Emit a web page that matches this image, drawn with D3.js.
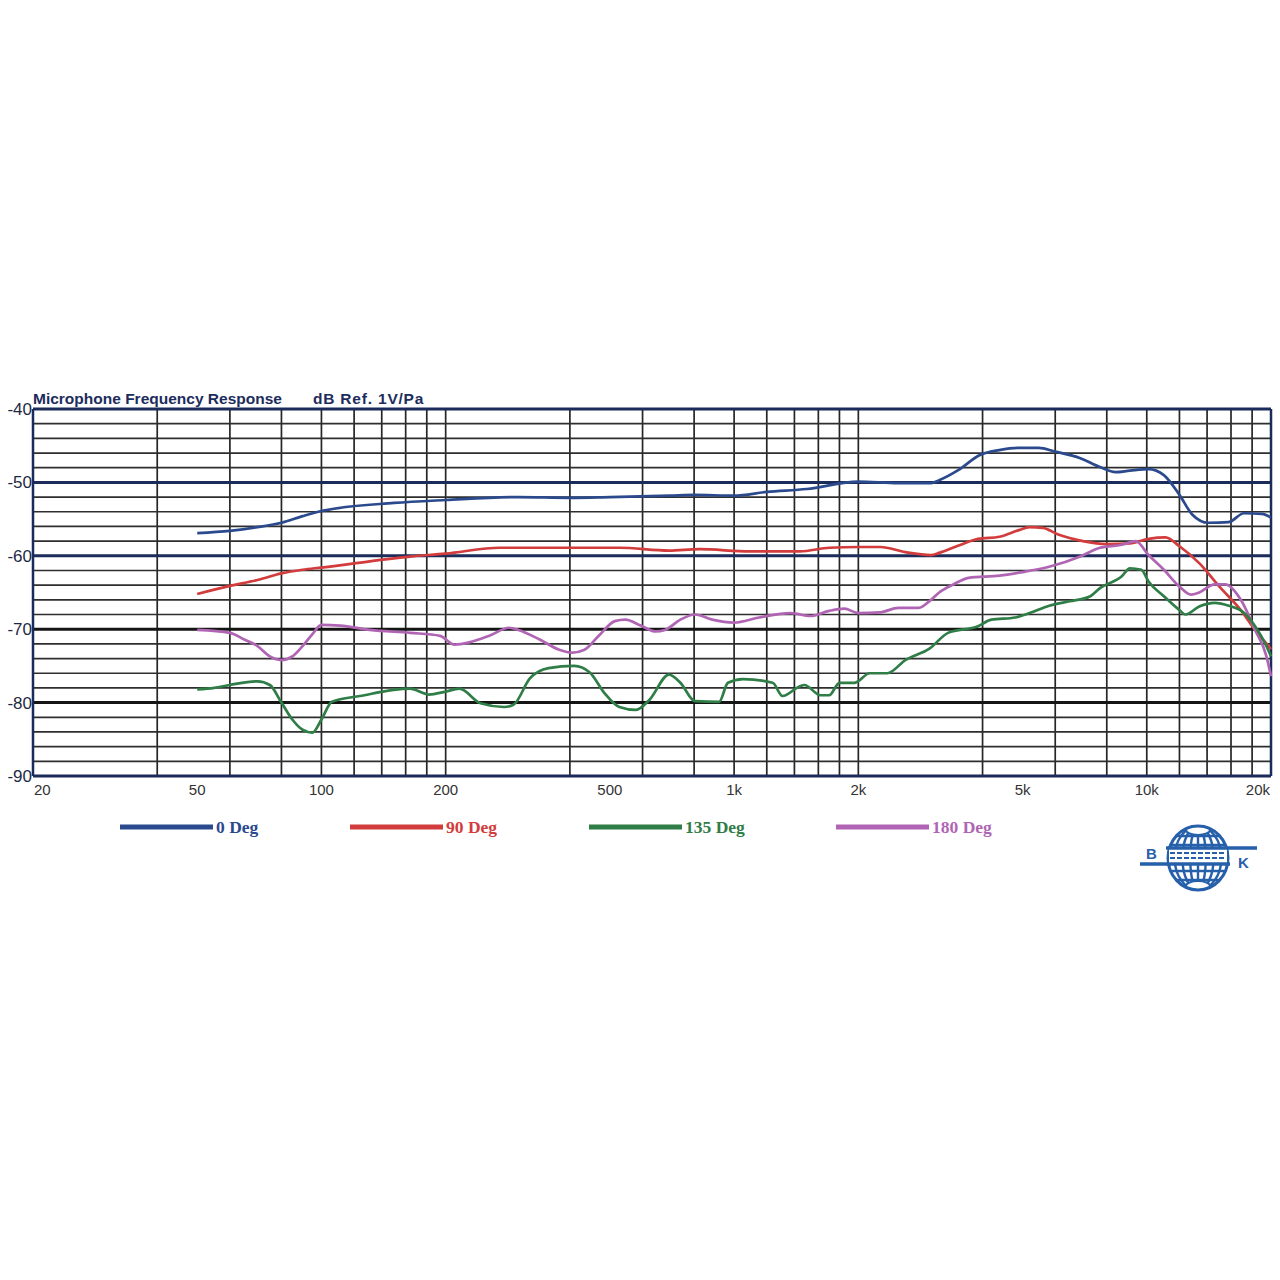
<!DOCTYPE html>
<html>
<head>
<meta charset="utf-8">
<script src="https://cdn.jsdelivr.net/npm/d3@7/dist/d3.min.js"></script>
<style>
  html, body { margin: 0; padding: 0; background: #ffffff; }
  svg { display: block; }
</style>
</head>
<body>
<script>
// ---------- DATA ----------
const title = "Microphone Frequency Response";
const subtitle = "dB Ref. 1V/Pa";
const yTicks = [-40, -50, -60, -70, -80, -90];
const xTickValues = [20, 50, 100, 200, 500, 1000, 2000, 5000, 10000, 20000];
const xTickLabels = ["20", "50", "100", "200", "500", "1k", "2k", "5k", "10k", "20k"];
const seriesNames = ["0 Deg", "90 Deg", "135 Deg", "180 Deg"];
const seriesColors = ["#2b4a8e", "#d23c3c", "#2f7d47", "#b065b4"];

const freq0 = [50, 60, 70, 80, 90, 100, 150, 200, 300, 400, 500, 700, 800, 1000, 1200, 1500, 2000, 2500, 3000, 3140, 3500, 3930, 4390, 4900, 5470, 6000, 6900, 7700, 8400, 9100, 10100, 11000, 12000, 12900, 14100, 15800, 17200, 19000, 20000];
const db0   = [-56.9, -56.6, -56.1, -55.5, -54.6, -53.9, -52.8, -52.4, -52.0, -52.1, -52.0, -51.8, -51.7, -51.8, -51.3, -50.9, -49.9, -50.1, -50.1, -49.7, -48.3, -46.3, -45.6, -45.3, -45.3, -45.8, -46.7, -47.9, -48.6, -48.4, -48.2, -49.0, -51.7, -54.4, -55.5, -55.4, -54.2, -54.3, -54.8];

const freq90 = [50, 60, 70, 80, 90, 100, 164, 200, 271, 470, 527, 695, 823, 1092, 1443, 1702, 2000, 2260, 2600, 3000, 3140, 3500, 3900, 4400, 4900, 5200, 5600, 6100, 7000, 8000, 9100, 10100, 11100, 12000, 13400, 15000, 16900, 18300, 20000];
const db90   = [-65.2, -64.1, -63.3, -62.4, -61.9, -61.6, -60.1, -59.7, -58.9, -58.9, -58.9, -59.3, -59.1, -59.4, -59.4, -58.9, -58.8, -58.8, -59.5, -59.9, -59.6, -58.6, -57.7, -57.4, -56.5, -56.1, -56.2, -57.1, -58.0, -58.4, -58.3, -57.7, -57.5, -58.7, -61.0, -64.2, -67.4, -70.1, -72.7];

const freq135 = [50, 55, 60, 70, 75, 80, 85, 90, 95, 100, 106, 124, 164, 182, 200, 216, 243, 277, 292, 320, 355, 410, 447, 485, 527, 578, 624, 695, 741, 804, 920, 966, 1050, 1240, 1310, 1440, 1480, 1620, 1700, 1800, 1960, 2130, 2350, 2600, 2980, 3300, 3900, 4200, 4800, 5200, 5800, 6500, 7300, 7700, 8700, 9100, 9700, 10100, 11000, 12000, 12400, 13400, 14600, 15800, 17300, 18300, 19500, 20000];
const db135   = [-78.2, -78.0, -77.6, -77.1, -77.6, -80.0, -82.3, -83.7, -84.1, -82.3, -79.9, -79.1, -78.1, -78.9, -78.5, -78.1, -80.1, -80.6, -80.3, -76.7, -75.3, -75.0, -75.9, -78.7, -80.6, -81.0, -79.6, -76.2, -77.3, -79.8, -79.9, -77.3, -76.8, -77.3, -79.1, -77.8, -77.6, -79.0, -79.0, -77.3, -77.3, -76.0, -76.0, -74.2, -72.6, -70.5, -69.6, -68.7, -68.4, -67.8, -66.8, -66.2, -65.5, -64.4, -62.8, -61.7, -61.9, -63.5, -65.5, -67.4, -68.0, -66.9, -66.4, -66.8, -67.9, -69.6, -72.3, -73.7];

const freq180 = [50, 60, 65, 70, 75, 80, 85, 90, 95, 100, 111, 131, 164, 194, 210, 228, 255, 285, 300, 338, 377, 405, 434, 470, 514, 545, 594, 645, 680, 741, 804, 885, 1000, 1150, 1370, 1530, 1700, 1850, 2000, 2260, 2500, 2800, 3000, 3140, 3400, 3700, 4400, 4900, 5800, 6900, 7700, 8700, 9400, 10100, 11000, 12000, 12800, 13400, 14600, 15500, 16900, 18300, 19500, 20000];
const db180   = [-70.1, -70.5, -71.4, -72.3, -73.7, -74.2, -73.7, -72.3, -70.7, -69.4, -69.5, -70.1, -70.5, -70.9, -72.1, -71.8, -70.9, -69.8, -70.1, -71.4, -72.8, -73.2, -72.8, -70.9, -68.9, -68.7, -69.5, -70.3, -70.1, -68.7, -68.0, -68.7, -69.1, -68.4, -67.8, -68.2, -67.5, -67.2, -67.8, -67.7, -67.1, -67.1, -66.0, -65.0, -63.9, -63.0, -62.7, -62.3, -61.5, -60.1, -58.9, -58.5, -58.0, -59.9, -61.9, -64.2, -65.3, -65.0, -63.9, -63.9, -66.0, -70.1, -73.7, -76.4];

const seriesFreqs = [freq0, freq90, freq135, freq180];
const seriesDbs = [db0, db90, db135, db180];

// ---------- LAYOUT ----------
const W = 1280, H = 1280;
const pLeft = 33, pRight = 1271, pTop = 409, pBottom = 776;

const svg = d3.select("body").append("svg").attr("width", W).attr("height", H);
svg.append("rect").attr("width", W).attr("height", H).attr("fill", "#ffffff");

const x = d3.scaleLog().domain([20, 20000]).range([pLeft, pRight]);
const y = d3.scaleLinear().domain([-90, -40]).range([pBottom, pTop]);

// grid: vertical lines (log grid)
const vLines = [];
[20, 200, 2000].forEach(d => { for (let k = 1; k <= 9; k++) { const f = d * k; if (f > 20 && f < 20000) vLines.push(f); } });
const grid = svg.append("g");
grid.selectAll("line.v").data(vLines).enter().append("line")
  .attr("x1", d => x(d)).attr("x2", d => x(d))
  .attr("y1", pTop).attr("y2", pBottom)
  .attr("stroke", "#262626").attr("stroke-width", 1.7);

// horizontal minor lines every 2 dB
const hMinor = d3.range(-88, -40, 2).filter(v => v % 10 !== 0);
grid.selectAll("line.h").data(hMinor).enter().append("line")
  .attr("x1", pLeft).attr("x2", pRight)
  .attr("y1", d => y(d)).attr("y2", d => y(d))
  .attr("stroke", "#2e2e2e").attr("stroke-width", 1.7);

// major lines
const hMajor = [-50, -60, -70, -80];
grid.selectAll("line.hm").data(hMajor).enter().append("line")
  .attr("x1", pLeft).attr("x2", pRight)
  .attr("y1", d => y(d)).attr("y2", d => y(d))
  .attr("stroke", d => (d >= -60 ? "#1b2b5a" : "#151515")).attr("stroke-width", 3);

// frame
svg.append("line").attr("x1", pLeft).attr("x2", pRight).attr("y1", pTop).attr("y2", pTop)
  .attr("stroke", "#1b2b5a").attr("stroke-width", 3);
svg.append("line").attr("x1", pLeft).attr("x2", pRight).attr("y1", pBottom).attr("y2", pBottom)
  .attr("stroke", "#1b2b5a").attr("stroke-width", 3);
svg.append("line").attr("x1", pLeft).attr("x2", pLeft).attr("y1", pTop).attr("y2", pBottom)
  .attr("stroke", "#1b2b5a").attr("stroke-width", 2.5);
svg.append("line").attr("x1", pRight).attr("x2", pRight).attr("y1", pTop).attr("y2", pBottom)
  .attr("stroke", "#1b2b5a").attr("stroke-width", 2.5);

// y labels
svg.append("g").selectAll("text").data(yTicks).enter().append("text")
  .attr("x", pLeft - 1).attr("y", d => y(d) + 6)
  .attr("text-anchor", "end")
  .attr("font-family", "Liberation Sans, Arial, sans-serif")
  .attr("font-size", 17).attr("fill", "#1e2a44")
  .text(d => d);

// x labels
svg.append("g").selectAll("text").data(xTickValues).enter().append("text")
  .attr("x", (d, i) => i === 0 ? x(d) + 1 : (i === xTickValues.length - 1 ? x(d) - 1 : x(d)))
  .attr("y", 795)
  .attr("text-anchor", (d, i) => i === 0 ? "start" : (i === xTickValues.length - 1 ? "end" : "middle"))
  .attr("font-family", "Liberation Sans Narrow, Liberation Sans, Arial, sans-serif")
  .attr("font-size", 15).attr("fill", "#333333")
  .text((d, i) => xTickLabels[i]);

// title
svg.append("text").attr("x", 33).attr("y", 404)
  .attr("font-family", "Liberation Sans, Arial, sans-serif").attr("font-weight", "bold")
  .attr("font-size", 15.5).attr("fill", "#1c2c5c").text(title);
svg.append("text").attr("x", 313).attr("y", 404)
  .attr("font-family", "Liberation Sans, Arial, sans-serif").attr("font-weight", "bold")
  .attr("font-size", 15.5).attr("letter-spacing", 0.8).attr("fill", "#1c2c5c").text(subtitle);

// series lines
const line = d3.line().curve(d3.curveMonotoneX).x(d => x(d[0])).y(d => y(d[1]));
const plot = svg.append("g");
[0, 1, 3, 2].forEach(i => {
  const pts = seriesFreqs[i].map((f, j) => [f, seriesDbs[i][j]]);
  plot.append("path").datum(pts).attr("d", line)
    .attr("fill", "none").attr("stroke", seriesColors[i]).attr("stroke-width", 2.7)
    .attr("stroke-linejoin", "round");
});

// legend
const legendX = [120, 350, 589, 836];
const legend = svg.append("g");
seriesNames.forEach((name, i) => {
  legend.append("line").attr("x1", legendX[i]).attr("x2", legendX[i] + 93)
    .attr("y1", 827).attr("y2", 827)
    .attr("stroke", seriesColors[i]).attr("stroke-width", 5);
  legend.append("text").attr("x", legendX[i] + 96).attr("y", 833)
    .attr("font-family", "Liberation Serif, Times New Roman, serif").attr("font-weight", "bold")
    .attr("font-size", 17.5).attr("fill", seriesColors[i]).text(name);
});

// logo (B&K globe)
const logo = svg.append("g");
const blue = "#2760aa";
const cx = 1198, cy = 858, rx = 30, ry = 32;
const defs = svg.append("defs");
defs.append("clipPath").attr("id", "globeClip").append("ellipse")
  .attr("cx", cx).attr("cy", cy).attr("rx", rx).attr("ry", ry);
const gl = logo.append("g").attr("clip-path", "url(#globeClip)");
[0.78, 0.52, 0.26].forEach(k => {
  gl.append("ellipse").attr("cx", cx).attr("cy", cy).attr("rx", rx * k).attr("ry", ry)
    .attr("fill", "none").attr("stroke", blue).attr("stroke-width", 2.4);
});
gl.append("line").attr("x1", cx).attr("x2", cx).attr("y1", cy - ry).attr("y2", cy + ry)
  .attr("stroke", blue).attr("stroke-width", 2.4);
[-22, -13, 13, 22].forEach(dy => {
  gl.append("line").attr("x1", cx - rx).attr("x2", cx + rx).attr("y1", cy + dy).attr("y2", cy + dy)
    .attr("stroke", blue).attr("stroke-width", 2.4);
});
gl.append("ellipse").attr("cx", cx).attr("cy", cy - ry + 4).attr("rx", 12).attr("ry", 5)
  .attr("fill", "#ffffff").attr("stroke", blue).attr("stroke-width", 2);
gl.append("ellipse").attr("cx", cx).attr("cy", cy + ry - 4).attr("rx", 12).attr("ry", 5)
  .attr("fill", "#ffffff").attr("stroke", blue).attr("stroke-width", 2);
logo.append("ellipse").attr("cx", cx).attr("cy", cy).attr("rx", rx).attr("ry", ry)
  .attr("fill", "none").attr("stroke", blue).attr("stroke-width", 3);
logo.append("rect").attr("x", cx - rx + 1).attr("y", 849).attr("width", 2 * rx - 2).attr("height", 14)
  .attr("fill", "#ffffff");
[853, 858].forEach(yy => {
  logo.append("line").attr("x1", cx - rx + 2).attr("x2", cx + rx - 2).attr("y1", yy).attr("y2", yy)
    .attr("stroke", blue).attr("stroke-width", 2.2).attr("stroke-dasharray", "5,2");
});
logo.append("line").attr("x1", 1166).attr("x2", 1257).attr("y1", 848).attr("y2", 848)
  .attr("stroke", blue).attr("stroke-width", 3.5);
logo.append("line").attr("x1", 1140).attr("x2", 1230).attr("y1", 864).attr("y2", 864)
  .attr("stroke", blue).attr("stroke-width", 3.5);
logo.append("text").attr("x", 1146).attr("y", 859)
  .attr("font-family", "Liberation Sans, Arial, sans-serif").attr("font-weight", "bold")
  .attr("font-size", 15).attr("fill", blue).text("B");
logo.append("text").attr("x", 1238).attr("y", 868)
  .attr("font-family", "Liberation Sans, Arial, sans-serif").attr("font-weight", "bold")
  .attr("font-size", 15).attr("fill", blue).text("K");
</script>
</body>
</html>
